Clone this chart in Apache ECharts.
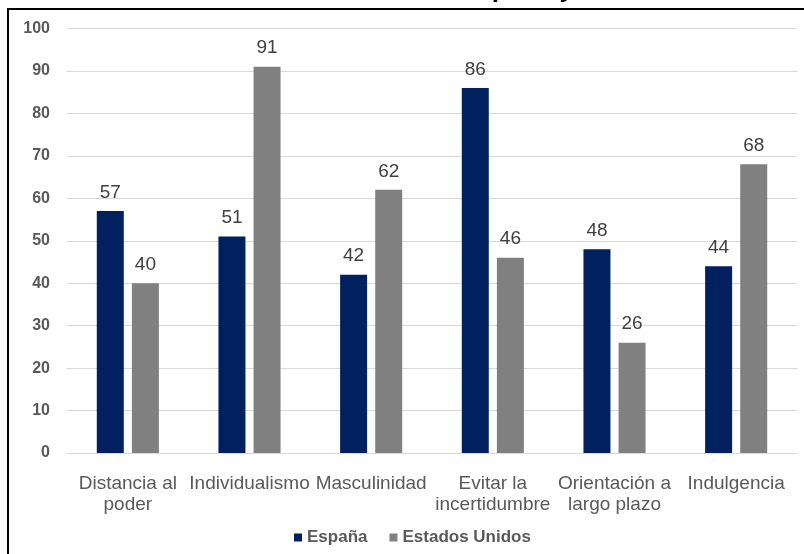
<!DOCTYPE html>
<html>
<head>
<meta charset="utf-8">
<script src="https://cdn.jsdelivr.net/npm/echarts@6/dist/echarts.min.js"></script>
<style>
  html, body { margin: 0; padding: 0; background: #ffffff; }
  #chart { width: 804px; height: 554px; }
</style>
</head>
<body>
<div id="chart"></div>
<script>
// Hofstede cultural dimensions: Spain vs United States
var categories = [
  'Distancia al\npoder',
  'Individualismo',
  'Masculinidad',
  'Evitar la\nincertidumbre',
  'Orientación a\nlargo plazo',
  'Indulgencia'
];
var espana = [57, 51, 42, 86, 48, 44];
var estadosUnidos = [40, 91, 62, 46, 26, 68];
var seriesNames = ['España', 'Estados Unidos'];
var yTicks = { min: 0, max: 100, interval: 10 };

var FONT = 'Arial, "Liberation Sans", Helvetica, sans-serif';

var chart = echarts.init(document.getElementById('chart'), null, { renderer: 'canvas' });

var labelStyle = {
  show: true,
  position: 'top',
  distance: 9,
  fontFamily: FONT,
  fontSize: 19,
  color: '#404040'
};

chart.setOption({
  backgroundColor: '#ffffff',
  animation: false,
  graphic: [
    {
      type: 'text',
      right: 24,
      top: -23,
      silent: true,
      style: {
        text: 'Gráfico 3. Índice cultural entre España y Estados Unidos',
        fontFamily: FONT,
        fontSize: 26,
        fontWeight: 'bold',
        fontStyle: 'italic',
        fill: '#000000'
      }
    },
    {
      type: 'rect',
      silent: true,
      shape: { x: 8, y: 9, width: 900, height: 700 },
      style: { fill: 'none', stroke: '#000000', lineWidth: 2 }
    }
  ],
  legend: {
    data: seriesNames,
    left: 289,
    top: 524,
    itemWidth: 8,
    itemHeight: 8,
    itemGap: 22,
    icon: 'rect',
    textStyle: {
      fontFamily: FONT,
      fontSize: 17,
      fontWeight: 'bold',
      color: '#595959'
    }
  },
  grid: {
    left: 67,
    right: 7,
    top: 28.5,
    bottom: 101,
    containLabel: false
  },
  xAxis: {
    type: 'category',
    data: categories,
    axisLine: { show: true, lineStyle: { color: '#d9d9d9', width: 1 } },
    axisTick: { show: false },
    axisLabel: {
      interval: 0,
      margin: 20,
      fontFamily: FONT,
      fontSize: 19,
      lineHeight: 21,
      color: '#595959'
    }
  },
  yAxis: {
    type: 'value',
    min: yTicks.min,
    max: yTicks.max,
    interval: yTicks.interval,
    axisLine: { show: false },
    axisTick: { show: false },
    splitLine: { show: true, lineStyle: { color: '#d9d9d9', width: 1 } },
    axisLabel: {
      margin: 17,
      fontFamily: FONT,
      fontSize: 16,
      fontWeight: 'bold',
      color: '#595959'
    }
  },
  series: [
    {
      name: seriesNames[0],
      type: 'bar',
      data: espana,
      barWidth: 27,
      barGap: '30%',
      itemStyle: { color: '#002060' },
      label: labelStyle
    },
    {
      name: seriesNames[1],
      type: 'bar',
      data: estadosUnidos,
      barWidth: 27,
      barGap: '30%',
      itemStyle: { color: '#808080' },
      label: labelStyle
    }
  ]
});
</script>
</body>
</html>
